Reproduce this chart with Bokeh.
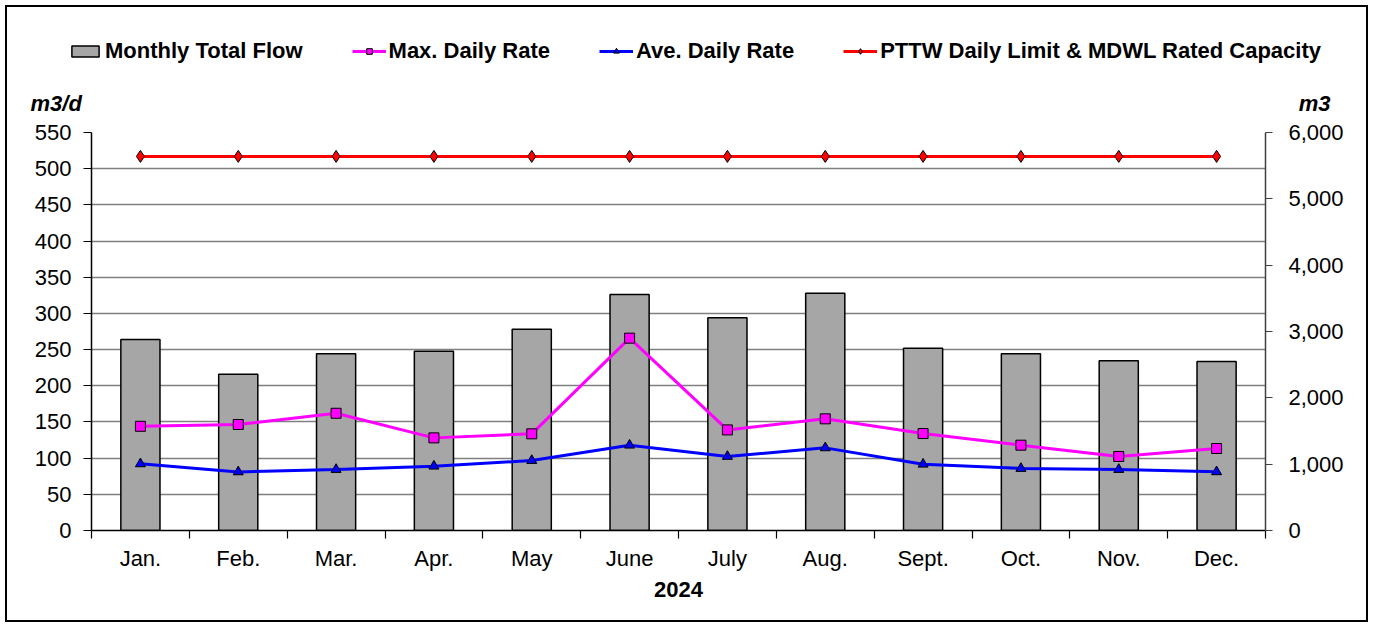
from bokeh.plotting import figure
from bokeh.layouts import column
from bokeh.models import (Range1d, LinearAxis, FixedTicker, NumeralTickFormatter,
                          Legend, LegendItem, Label)
from bokeh.embed import file_html
from bokeh.resources import INLINE

months = ["Jan.", "Feb.", "Mar.", "Apr.", "May", "June", "July", "Aug.",
          "Sept.", "Oct.", "Nov.", "Dec."]
monthly_total_flow = [2879, 2356, 2664, 2703, 3035, 3558, 3206, 3578, 2749, 2664, 2558, 2548]
max_daily_rate = [144, 146.5, 162, 128, 133.6, 265.8, 139, 154.3, 134, 117.9, 102.3, 113.3]
ave_daily_rate = [92.1, 81, 84.3, 88.9, 96.7, 117.9, 102.3, 114.2, 91.6, 85.7, 84.3, 81.1]
pttw_limit = [517] * 12
left_ticks = list(range(0, 551, 50))
right_ticks = list(range(0, 6001, 1000))
series_names = ["Monthly Total Flow", "Max. Daily Rate", "Ave. Daily Rate",
                "PTTW Daily Limit & MDWL Rated Capacity"]
left_unit = "m3/d"
right_unit = "m3"
year_label = "2024"

FONT = "Liberation Sans"
FS = "22px"
W = 1373
TOP_H = 120
MAIN_H = 624 - TOP_H

BAR_STYLE = dict(fill_color="#A6A6A6", line_color="black", line_width=1.5)
MAX_LINE = dict(line_color="#FF00FF", line_width=3)
MAX_MARK = dict(marker="square", size=10, fill_color="#FF00FF", line_color="black", line_width=1)
AVE_LINE = dict(line_color="#0000FF", line_width=3)
AVE_MARK = dict(marker="triangle", size=10, fill_color="#0000FF", line_color="black", line_width=1)
LIM_LINE = dict(line_color="#FF0000", line_width=3)
LIM_MARK = dict(marker="diamond", size=12, fill_color="#FF0000", line_color="black", line_width=1)

xs = list(range(len(months)))
bounds = [i - 0.5 for i in range(len(months) + 1)]

# ---------------- main chart ----------------
p = figure(width=W, height=MAIN_H, output_backend="svg", toolbar_location=None,
           x_range=Range1d(-0.5, len(months) - 0.5), y_range=Range1d(0, 550),
           min_border_left=91, min_border_right=108, min_border_top=132 - TOP_H,
           min_border_bottom=94)
p.outline_line_color = None
p.background_fill_color = "white"
p.border_fill_alpha = 0
p.extra_y_ranges = {"vol": Range1d(0, 6000)}
p.styles = {"background":
            "linear-gradient(#000,#000) 5px 0px / 2px 502px no-repeat, "
            "linear-gradient(#000,#000) 1366px 0px / 2px 502px no-repeat, "
            "linear-gradient(#000,#000) 5px 500px / 1363px 2px no-repeat"}

p.xgrid.grid_line_color = None
p.ygrid.ticker = FixedTicker(ticks=left_ticks)
p.ygrid.grid_line_color = "#808080"
p.ygrid.grid_line_width = 1.5

xa = p.xaxis[0]
xa.ticker = FixedTicker(ticks=xs, minor_ticks=bounds)
xa.major_label_overrides = {i: m for i, m in enumerate(months)}
xa.major_tick_line_color = None
xa.major_tick_out = 0
xa.major_tick_in = 0
xa.minor_tick_in = 0
xa.minor_tick_out = 8
xa.minor_tick_line_color = "black"
xa.minor_tick_line_width = 1.2
xa.axis_line_color = "black"
xa.axis_line_width = 1.5
xa.major_label_standoff = 7
xa.major_label_text_font = FONT
xa.major_label_text_font_size = FS
xa.major_label_text_color = "black"
xa.axis_label = year_label
xa.axis_label_text_font = FONT
xa.axis_label_text_font_size = FS
xa.axis_label_text_font_style = "bold"
xa.axis_label_text_color = "black"
xa.axis_label_standoff = 8

ya = p.yaxis[0]
ya.ticker = FixedTicker(ticks=left_ticks)
ya.minor_tick_line_color = None
ya.major_tick_in = 0
ya.major_tick_out = 8
ya.major_tick_line_color = "black"
ya.major_tick_line_width = 1.2
ya.axis_line_color = "black"
ya.axis_line_width = 1.5
ya.major_label_standoff = 12
ya.major_label_text_font = FONT
ya.major_label_text_font_size = FS
ya.major_label_text_color = "black"

ra = LinearAxis(y_range_name="vol", ticker=FixedTicker(ticks=right_ticks),
                formatter=NumeralTickFormatter(format="0,0"))
ra.minor_tick_line_color = None
ra.major_tick_in = 0
ra.major_tick_out = 7
ra.major_tick_line_color = "#404040"
ra.major_tick_line_width = 1.2
ra.axis_line_color = "#404040"
ra.axis_line_width = 1.5
ra.major_label_standoff = 16
ra.major_label_text_font = FONT
ra.major_label_text_font_size = FS
ra.major_label_text_color = "black"
p.add_layout(ra, "right")

p.vbar(x=xs, top=monthly_total_flow, width=0.4, y_range_name="vol", **BAR_STYLE)
p.line(xs, max_daily_rate, **MAX_LINE)
p.scatter(xs, max_daily_rate, **MAX_MARK)
p.line(xs, ave_daily_rate, **AVE_LINE)
p.scatter(xs, ave_daily_rate, **AVE_MARK)
p.line(xs, pttw_limit, **LIM_LINE)
p.scatter(xs, pttw_limit, **LIM_MARK)

# ---------------- header strip: legend and unit labels ----------------
h = figure(width=W, height=TOP_H, output_backend="svg", toolbar_location=None,
           x_range=Range1d(0, W), y_range=Range1d(0, TOP_H),
           min_border_left=0, min_border_right=0, min_border_top=0, min_border_bottom=0)
for fig in (h, p):
    if "frame_align" in fig.properties():
        fig.frame_align = False
h.axis.visible = False
h.grid.visible = False
h.outline_line_color = None
h.background_fill_alpha = 0
h.border_fill_alpha = 0
h.styles = {"background":
            "linear-gradient(#000,#000) 5px 5px / 2px 115px no-repeat, "
            "linear-gradient(#000,#000) 1366px 5px / 2px 115px no-repeat, "
            "linear-gradient(#000,#000) 5px 5px / 1363px 2px no-repeat"}

# hidden copies of the series, used only as legend samples
r_bar = h.vbar(x=xs, top=monthly_total_flow, width=0.4, visible=False, **BAR_STYLE)
r_ml = h.line(xs, max_daily_rate, visible=False, **MAX_LINE)
r_mm = h.scatter(xs, max_daily_rate, visible=False, **MAX_MARK)
r_al = h.line(xs, ave_daily_rate, visible=False, **AVE_LINE)
r_am = h.scatter(xs, ave_daily_rate, visible=False, **AVE_MARK)
r_ll = h.line(xs, pttw_limit, visible=False, **LIM_LINE)
r_lm = h.scatter(xs, pttw_limit, visible=False, **LIM_MARK)

legend = Legend(items=[
    LegendItem(label=series_names[0], renderers=[r_bar]),
    LegendItem(label=series_names[1], renderers=[r_ml, r_mm]),
    LegendItem(label=series_names[2], renderers=[r_al, r_am]),
    LegendItem(label=series_names[3], renderers=[r_ll, r_lm]),
], orientation="horizontal", location=(68, 56), border_line_color=None,
    background_fill_alpha=0, padding=0, margin=0, spacing=49, label_standoff=3,
    glyph_width=34, glyph_height=14, click_policy="none",
    label_text_font=FONT, label_text_font_size=FS, label_text_font_style="bold",
    label_text_color="black")
h.add_layout(legend, "center")

unit_kw = dict(text_font=FONT, text_font_size=FS, text_font_style="bold italic",
               text_color="black", text_baseline="middle", y=TOP_H - 103)
h.add_layout(Label(x=30, text=left_unit, text_align="left", **unit_kw))
h.add_layout(Label(x=1330, text=right_unit, text_align="right", **unit_kw))

layout = column(h, p, spacing=0)

open("out.html", "w").write(file_html(layout, INLINE))
